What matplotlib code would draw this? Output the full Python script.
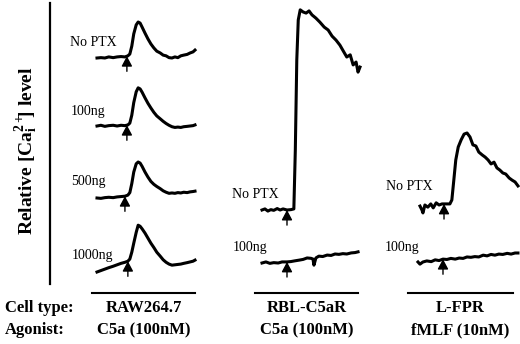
"""Calcium traces: PTX sensitivity of C5a / fMLF responses in three cell types."""
import numpy as np
import matplotlib
matplotlib.use('Agg')
import matplotlib.pyplot as plt

plt.rcParams['font.family'] = 'Liberation Serif'
plt.rcParams['mathtext.fontset'] = 'custom'
plt.rcParams['mathtext.rm'] = 'Liberation Serif:bold'
plt.rcParams['mathtext.it'] = 'Liberation Serif:bold'
plt.rcParams['mathtext.bf'] = 'Liberation Serif:bold'

# --- data: time (s) and relative Ca level (peak of RAW No PTX ~ 1) ---
t_raw = [0, 8, 16, 24, 33, 41, 49, 57, 63, 67, 71, 75, 80, 84, 88, 92, 98, 104, 110, 116,
         122, 129, 135, 141, 147, 153, 159, 165, 171, 177, 184, 190, 196, 200]
raw_noptx = [0, .01, 0, .03, .01, .03, .04, .03, .06, .11, .33, .67, .92, 1.0, .97, .86, .69, .53, .39, .28,
             .19, .14, .08, .06, .01, 0, .03, .01, .06, .08, .10, .14, .17, .22]
raw_100 = [0, .02, -.01, .01, .02, 0, .02, .01, .03, .08, .30, .65, .95, 1.06, 1.03, .94, .78, .63, .50, .38,
           .28, .20, .13, .07, .02, -.02, -.04, -.03, -.04, -.02, -.01, 0, .01, .03]
raw_500 = [0, -.01, .01, .02, .01, .03, .04, .05, .08, .15, .40, .72, .95, 1.0, .97, .88, .72, .58, .46, .38,
           .32, .26, .20, .16, .13, .14, .13, .15, .14, .16, .15, .17, .18, .19]
raw_1000 = [0, .04, .08, .12, .16, .20, .24, .27, .30, .36, .55, .80, 1.10, 1.30, 1.27, 1.20, 1.08, .94, .80, .68,
            .55, .44, .34, .27, .22, .19, .20, .21, .22, .24, .26, .28, .30, .33]

t_rbl = [0, 6, 12, 18, 24, 31, 37, 43, 51, 59, 65, 68, 71, 74, 78, 84, 90, 96, 102, 110,
         118, 127, 135, 143, 151, 159, 167, 173, 180, 186, 192, 196, 200]
rbl_noptx = [0, .03, -.03, .01, -.01, .04, 0, .03, 0, .01, .03, 1.67, 4.17, 5.28, 5.56, 5.50, 5.47, 5.53, 5.42, 5.33,
             5.22, 5.08, 5.0, 4.83, 4.72, 4.58, 4.39, 4.25, 4.31, 4.03, 4.11, 3.83, 3.97]
t_rbl_100 = [0, 8, 16, 24, 33, 41, 51, 59, 67, 76, 84, 92, 100, 104, 106, 110, 116, 124, 133, 141,
             149, 157, 165, 173, 182, 190, 196]
rbl_100 = [0, .03, -.01, .01, 0, .03, .03, .04, .06, .08, .10, .14, .13, .11, -.06, .14, .19, .18, .22, .21,
           .25, .24, .26, .25, .28, .29, .31]

t_fpr = [0, 4, 6, 10, 16, 22, 27, 33, 39, 45, 53, 61, 65, 69, 73, 78, 84, 90, 96, 102,
         108, 114, 120, 127, 133, 139, 145, 151, 157, 163, 169, 175, 182, 188, 194, 200]
fpr_noptx = [-.03, -.14, -.22, 0, -.06, .03, -.08, .06, 0, .03, .03, .03, .14, .69, 1.25, 1.61, 1.81, 1.97, 2.0, 1.89,
             1.67, 1.64, 1.47, 1.39, 1.33, 1.25, 1.14, 1.19, 1.03, .97, .89, .86, .75, .69, .64, .53]
t_fpr_100 = [0, 4, 10, 18, 27, 35, 43, 51, 59, 67, 76, 84, 92, 100, 108, 116, 124, 133, 141, 149,
             157, 165, 173, 182, 190, 198, 204]
fpr_100 = [0, -.06, 0, .03, .01, .06, .04, .08, .07, .10, .08, .11, .10, .14, .13, .15, .14, .19, .17, .21,
           .19, .22, .21, .24, .22, .25, .25]

cell_types = ['RAW264.7', 'RBL-C5aR', 'L-FPR']
agonists = ['C5a (100nM)', 'C5a (100nM)', 'fMLF (10nM)']

# (label, t, values, agonist added at t) per trace
traces = [
    ('No PTX', t_raw, raw_noptx, 61), ('100ng', t_raw, raw_100, 61),
    ('500ng', t_raw, raw_500, 57), ('1000ng', t_raw, raw_1000, 63),
    ('No PTX', t_rbl, rbl_noptx, 51), ('100ng', t_rbl_100, rbl_100, 51),
    ('No PTX', t_fpr, fpr_noptx, 49), ('100ng', t_fpr_100, fpr_100, 51),
]

# --- layout (pixels) ---
W, H = 520, 344
PX_PER_UNIT = 36
PX_PER_SEC = 98 / 200
# trace origin (x of t=0, y of baseline) and label anchor
origins = [(97, 58), (97, 126), (97, 198), (97, 272),
           (262, 210), (262, 263), (420, 205), (418, 262)]
label_pos = [(70, 42), (71, 112), (71, 181), (72, 255),
             (232, 195), (233, 248), (386, 186), (385, 247)]
col_lines = [(92, 195), (255, 358), (408, 513)]

fig = plt.figure(figsize=(W / 100, H / 100), dpi=100)
bg = fig.add_axes([0, 0, 1, 1])
bg.set_xlim(0, W)
bg.set_ylim(H, 0)
bg.axis('off')

lo, hi = -1.0, 6.0
for (lab, t, v, t_add), (x0, base), (lx, ly) in zip(traces, origins, label_pos):
    ax = fig.add_axes([x0 / W, 1 - (base - lo * PX_PER_UNIT) / H,
                       200 * PX_PER_SEC / W, (hi - lo) * PX_PER_UNIT / H])
    ax.set_xlim(0, 200)
    ax.set_ylim(lo, hi)
    ax.axis('off')
    ax.patch.set_alpha(0)
    ax.plot(t, v, color='black', lw=2.2, solid_joinstyle='round', clip_on=False)
    tip = np.interp(t_add, t, v)
    ax.annotate('', xy=(t_add, tip), xytext=(t_add, tip - 0.42),
                arrowprops=dict(arrowstyle='-|>,head_length=0.6,head_width=0.32',
                                color='black', lw=1.0, shrinkA=0, shrinkB=0),
                annotation_clip=False)
    bg.text(lx, ly, lab, fontsize=10, ha='left', va='center')

# y axis line and label
bg.plot([50, 50], [3, 284], color='black', lw=1.6)
bg.text(27, 151, r'Relative [$\mathrm{Ca}^{2+}_{\mathrm{i}}\!\!$] level', rotation=90,
        fontsize=14, fontweight='bold', ha='center', va='center')

# column captions
for (xa, xb), ct, ag in zip(col_lines, cell_types, agonists):
    bg.plot([xa, xb], [293, 293], color='black', lw=1.5)
    xc = (xa + xb) / 2
    bg.text(xc, 308, ct, fontsize=12, fontweight='bold', ha='center', va='center')
    bg.text(xc, 330, ag, fontsize=12, fontweight='bold', ha='center', va='center')
bg.text(5, 308, 'Cell type:', fontsize=12, fontweight='bold', ha='left', va='center')
bg.text(5, 330, 'Agonist:', fontsize=12, fontweight='bold', ha='left', va='center')

fig.savefig('out.png', dpi=100)
plt.close(fig)
